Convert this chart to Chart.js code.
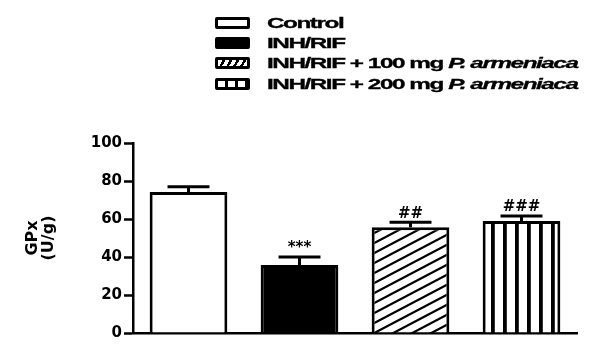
<!DOCTYPE html>
<html>
<head>
<meta charset="utf-8">
<script src="https://cdn.jsdelivr.net/npm/chart.js@4"></script>
<style>
  html,body{margin:0;padding:0;background:#fff;}
  #wrap{position:relative;width:605px;height:355px;overflow:hidden;}
  #c{position:absolute;left:0;top:0;}
  #legend{position:absolute;left:215px;top:0;}
  .row{position:absolute;left:0;height:20px;width:400px;}
  .sw{position:absolute;left:0;top:4px;width:35px;height:12px;box-sizing:border-box;border:3px solid #000;border-radius:2px;background:#fff;}
  .lbl{position:absolute;left:52px;top:0;line-height:20px;white-space:nowrap;font-family:"Liberation Sans",Arial,sans-serif;font-weight:bold;font-size:15px;letter-spacing:-0.9px;transform:scaleX(1.62);transform-origin:0 50%;color:#000;-webkit-text-stroke:0.3px #000;}
</style>
</head>
<body>
<div id="wrap">
  <canvas id="c" width="605" height="355"></canvas>
  <div id="legend"></div>
</div>
<script>
// ---- data ----
const groups = ['Control', 'INH/RIF', 'INH/RIF + 100 mg P. armeniaca', 'INH/RIF + 200 mg P. armeniaca'];
const gpxMean = [74.2, 35.8, 55.6, 59.0];
const gpxSem = [2.8, 4.2, 2.7, 2.6];
const sigMarks = ['', '***', '##', '###'];
const yTicks = [0, 20, 40, 60, 80, 100];
const yTitle = ['GPx', '(U/g)'];

// ---- patterns ----
function hatchPattern() {
  const w = 19, h = 10;
  const cv = document.createElement('canvas'); cv.width = w; cv.height = h;
  const g = cv.getContext('2d');
  g.fillStyle = '#fff'; g.fillRect(0, 0, w, h);
  g.strokeStyle = '#000'; g.lineWidth = 2.2;
  for (let k = -1; k <= 1; k++) {
    g.beginPath();
    g.moveTo(-w, 2 * h + k * h);
    g.lineTo(2 * w, -h + k * h);
    g.stroke();
  }
  return g.createPattern(cv, 'repeat');
}
function stripePattern() {
  const w = 12, h = 4;
  const cv = document.createElement('canvas'); cv.width = w; cv.height = h;
  const g = cv.getContext('2d');
  g.fillStyle = '#fff'; g.fillRect(0, 0, w, h);
  g.fillStyle = '#000';
  g.fillRect(0, 0, 2.8, h);
  g.fillRect(11, 0, 1, h);
  return g.createPattern(cv, 'repeat');
}
const fills = ['#ffffff', '#000000', hatchPattern(), stripePattern()];

// ---- legend (HTML) ----
const swatchCss = [
  'background:#fff;',
  'background:#000;',
  'background:repeating-linear-gradient(-60deg,#fff 0 3.5px,#000 3.5px 6px);',
  'background:repeating-linear-gradient(90deg,#fff 0 7px,#000 7px 10px);'
];
const rowTops = [13, 33, 53, 74];
const legend = document.getElementById('legend');
groups.forEach((g, i) => {
  const row = document.createElement('div');
  row.className = 'row';
  row.style.top = rowTops[i] + 'px';
  const sw = document.createElement('div');
  sw.className = 'sw';
  sw.style.cssText = swatchCss[i];
  const lbl = document.createElement('div');
  lbl.className = 'lbl';
  const m = g.match(/^(.*?)(P\. armeniaca)$/);
  if (m) {
    lbl.appendChild(document.createTextNode(m[1]));
    const it = document.createElement('i');
    it.textContent = m[2];
    lbl.appendChild(it);
  } else {
    lbl.textContent = g;
  }
  row.appendChild(sw);
  row.appendChild(lbl);
  legend.appendChild(row);
});

// ---- plugins ----
const errorBars = {
  id: 'errorBars',
  afterDatasetsDraw(chart) {
    const ctx = chart.ctx;
    const meta = chart.getDatasetMeta(0);
    const ys = chart.scales.y;
    ctx.save();
    ctx.strokeStyle = '#000';
    ctx.lineWidth = 3;
    ctx.lineCap = 'butt';
    meta.data.forEach((bar, i) => {
      const x = bar.x;
      const yTop = ys.getPixelForValue(gpxMean[i]);
      const yUp = ys.getPixelForValue(gpxMean[i] + gpxSem[i]);
      const half = bar.width * 0.27;
      ctx.beginPath();
      ctx.moveTo(x, yTop);
      ctx.lineTo(x, yUp);
      ctx.moveTo(x - half, yUp);
      ctx.lineTo(x + half, yUp);
      ctx.stroke();
      if (sigMarks[i]) {
        ctx.fillStyle = '#000';
        ctx.font = 'bold 15px "DejaVu Sans", sans-serif';
        ctx.textAlign = 'center';
        ctx.textBaseline = 'bottom';
        ctx.fillText(sigMarks[i], x, yUp - 1);
      }
    });
    ctx.restore();
  }
};

new Chart(document.getElementById('c'), {
  type: 'bar',
  data: {
    labels: groups,
    datasets: [{
      data: gpxMean,
      backgroundColor: fills,
      borderColor: '#000',
      borderWidth: 3,
      borderSkipped: 'start',
      categoryPercentage: 1.0,
      barPercentage: 0.7
    }]
  },
  options: {
    responsive: false,
    animation: false,
    events: [],
    layout: { padding: { left: 0, top: 143, right: 28, bottom: 22 } },
    plugins: { legend: { display: false }, tooltip: { enabled: false } },
    scales: {
      x: {
        grid: { display: false },
        ticks: { display: false },
        border: { display: true, color: '#000', width: 2.5 },
        afterFit(s) { s.height = 0; }
      },
      y: {
        min: 0, max: 100,
        afterBuildTicks(s) { s.ticks = yTicks.map(v => ({ value: v })); },
        grid: { display: true, drawOnChartArea: false, drawTicks: true, tickLength: 9, tickColor: '#000', tickWidth: 2.5 },
        border: { display: true, color: '#000', width: 2.5 },
        ticks: { color: '#000', padding: 2, font: { family: '"DejaVu Sans", sans-serif', weight: 'bold', size: 15 } },
        title: { display: true, text: yTitle, color: '#000', padding: { top: 25, bottom: 0 }, font: { family: '"DejaVu Sans", sans-serif', weight: 'bold', size: 16, lineHeight: 1.0 } },
        afterFit(s) { s.width = 133; }
      }
    }
  },
  plugins: [errorBars]
});
</script>
</body>
</html>
